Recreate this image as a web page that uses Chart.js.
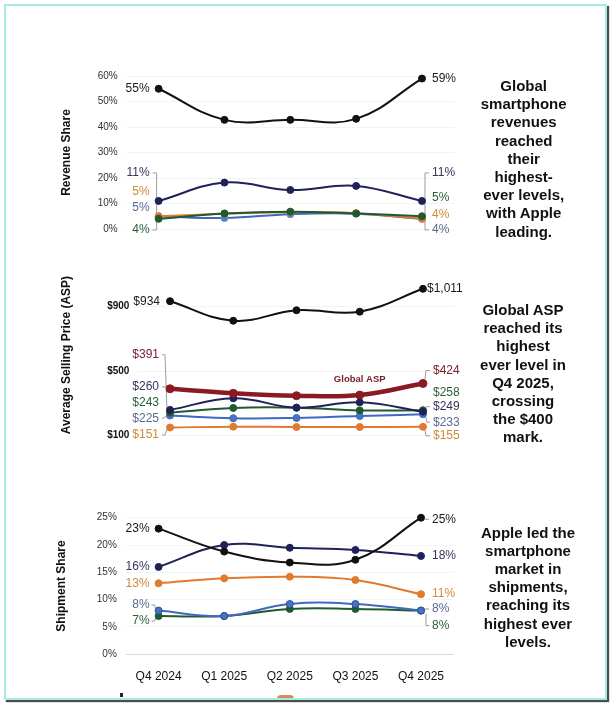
<!DOCTYPE html>
<html><head><meta charset="utf-8">
<script src="https://cdn.jsdelivr.net/npm/chart.js@4.4.1/dist/chart.umd.min.js"></script>
<style>
html,body{margin:0;padding:0;background:#fff;width:613px;height:706px;overflow:hidden;}
#frame{position:absolute;left:3.5px;top:3.5px;width:599px;height:692px;border:2.5px solid #a6ebe6;box-shadow:2px 2px 1px #4d4d4d;z-index:2;}
canvas{position:absolute;left:0;}
.note{position:absolute;width:140px;text-align:center;white-space:nowrap;font:bold 15px/18.2px "Liberation Sans",Arial,sans-serif;color:#111;}
.stub{position:absolute;overflow:hidden;}
</style></head><body>
<div class="stub" style="left:277px;top:695px;width:17px;height:3px;"><div style="width:17px;height:8px;border-radius:8px;background:#d98a5a;"></div></div>
<div class="stub" style="left:120px;top:693px;width:3px;height:4px;background:#222;"></div>
<div id="frame"></div>
<canvas id="c1" width="613" height="250" style="top:0px"></canvas>
<canvas id="c2" width="613" height="230" style="top:250px"></canvas>
<canvas id="c3" width="613" height="226" style="top:480px"></canvas>
<div class="note" style="left:453.7px;top:76.9px">Global<br>smartphone<br>revenues<br>reached<br>their<br>highest-<br>ever levels,<br>with Apple<br>leading.</div>
<div class="note" style="left:453px;top:301px">Global ASP<br>reached its<br>highest<br>ever level in<br>Q4 2025,<br>crossing<br>the $400<br>mark.</div>
<div class="note" style="left:458px;top:523.6px">Apple led the<br>smartphone<br>market in<br>shipments,<br>reaching its<br>highest ever<br>levels.</div>
<script>
// ---------------- DATA ----------------
const quarters = ['Q4 2024', 'Q1 2025', 'Q2 2025', 'Q3 2025', 'Q4 2025'];

// Revenue share (%)
const revApple   = [55, 42.8, 42.8, 43.2, 59];
const revSamsung = [11, 18.2, 15.3, 16.9, 11];
const revGreen   = [4, 6.1, 6.8, 6.1, 5];
const revOrange  = [5, 6.0, 6.6, 6.2, 4];
const revBlue    = [5, 4.3, 5.8, 6.0, 4];
const revTicks   = [0, 10, 20, 30, 40, 50, 60];

// Average selling price (US$)
const aspApple   = [934, 813, 878, 869, 1011];
const aspGlobal  = [391, 363, 348, 352, 424];
const aspSamsung = [260, 332, 274, 307, 249];
const aspGreen   = [243, 272, 274, 257, 258];
const aspBlue    = [225, 208, 210, 222, 233];
const aspOrange  = [151, 156, 154, 154, 155];
const aspTicks   = [100, 500, 900];

// Shipment share (%)
const shipApple   = [23, 18.8, 16.8, 17.3, 25];
const shipSamsung = [16, 20.0, 19.5, 19.1, 18];
const shipOrange  = [13, 13.9, 14.2, 13.6, 11];
const shipBlue    = [8, 7.0, 9.2, 9.2, 8];
const shipGreen   = [7, 7.0, 8.3, 8.3, 8];
const shipTicks   = [0, 5, 10, 15, 20, 25];

// ---------------- STYLE ----------------
const FONT = '"Liberation Sans", Arial, sans-serif';
Chart.defaults.font.family = FONT;
const C = {
  black:  {line:'#111111', label:'#1a1a1a'},
  navy:   {line:'#1f2258', label:'#34365a'},
  green:  {line:'#1f5a31', label:'#2b5e3b'},
  orange: {line:'#e07a2e', label:'#d08a3e'},
  blue:   {line:'#4068bd', label:'#5d6a90'},
  red:    {line:'#8b1b22', label:'#7a2030'}
};
function ds(data, c, extra) {
  return Object.assign({
    data, borderColor: C[c].line, backgroundColor: C[c].line,
    pointBackgroundColor: C[c].line, pointBorderColor: C[c].line,
    borderWidth: 2, pointRadius: 3.5, pointBorderWidth: 1,
    tension: 0.4, clip: false, labelColor: C[c].label
  }, extra || {});
}

const endLabels = {
  id: 'endLabels',
  _pos(chart, o, i, side) {
    const spec = o[side] && o[side][i];
    if (!spec) return null;
    const pts = chart.getDatasetMeta(i).data;
    const idx = side === 'left' ? 0 : pts.length - 1;
    const p = pts[idx];
    const lx = side === 'left' ? p.x - spec.gap : p.x + spec.gap;
    return {spec, p, idx, lx, ly: p.y + spec.dy};
  },
  beforeDatasetsDraw(chart, args, o) {
    const ctx = chart.ctx;
    ctx.save();
    ctx.strokeStyle = '#9c9c9c'; ctx.lineWidth = 1;
    chart.data.datasets.forEach((d, i) => {
      ['left', 'right'].forEach(side => {
        const r = this._pos(chart, o, i, side);
        if (!r || !r.spec.leader) return;
        ctx.beginPath();
        r.spec.leader.forEach(([ref, dx, dy], k) => {
          const bx = (ref === 'L' ? r.lx : r.p.x) + dx;
          const by = (ref === 'L' ? r.ly : r.p.y) + dy;
          k ? ctx.lineTo(bx, by) : ctx.moveTo(bx, by);
        });
        ctx.stroke();
      });
    });
    ctx.restore();
  },
  afterDatasetsDraw(chart, args, o) {
    const ctx = chart.ctx;
    ctx.save();
    ctx.font = '12px ' + FONT;
    ctx.textBaseline = 'middle';
    chart.data.datasets.forEach((d, i) => {
      ['left', 'right'].forEach(side => {
        const r = this._pos(chart, o, i, side);
        if (!r) return;
        ctx.fillStyle = d.labelColor;
        ctx.textAlign = side === 'left' ? 'right' : 'left';
        ctx.fillText(o.fmt(d.data[r.idx]), r.lx, r.ly);
      });
    });
    (o.tags || []).forEach(t => {
      const p = chart.getDatasetMeta(t.ds).data[t.idx];
      ctx.font = t.font; ctx.fillStyle = t.color; ctx.textAlign = 'center';
      ctx.fillText(t.text, p.x + t.dx, p.y + t.dy);
    });
    ctx.restore();
  }
};
Chart.register(endLabels);

function makeChart(id, datasets, cfg) {
  const xScale = {
    type: 'category', offset: true, display: cfg.showX,
    grid: {display: false}, border: {display: false},
    ticks: {padding: 7.5, color: '#111', font: {size: 12}}
  };
  if (cfg.showX) xScale.afterFit = s => { s.height = 30; };
  return new Chart(document.getElementById(id), {
    type: 'line',
    data: {labels: quarters, datasets},
    options: {
      responsive: false, animation: false, events: [],
      layout: {padding: cfg.padding},
      plugins: {legend: {display: false}, tooltip: {enabled: false}, endLabels: cfg.labels},
      scales: {
        x: xScale,
        y: {
          min: cfg.min, max: cfg.max,
          afterBuildTicks: s => { s.ticks = cfg.ticks.map(v => ({value: v})); },
          ticks: {padding: cfg.tickPad, color: cfg.tickColor, font: {size: 10, weight: cfg.tickWeight},
                  callback: cfg.tickFmt},
          grid: {drawTicks: false, color: cfg.gridColor},
          border: {display: false},
          title: {display: true, text: cfg.title, color: '#111', font: {size: 12, weight: 'bold'},
                  padding: {top: cfg.titlePad, bottom: 0}},
          afterFit: s => { s.width = cfg.axisW; }
        }
      }
    }
  });
}

const pct = v => Math.round(v) + '%';
const usd = v => '$' + Math.round(v).toLocaleString('en-US');

// Panel 1: revenue share
makeChart('c1', [
  ds(revApple, 'black'),
  ds(revSamsung, 'navy'),
  ds(revGreen, 'green'),
  ds(revOrange, 'orange'),
  ds(revBlue, 'blue', {pointBackgroundColor: '#4d80d2', pointBorderColor: '#6d8fcf'})
], {
  padding: {left: 0, right: 158.1, top: 76, bottom: 21}, showX: false,
  min: 0, max: 60, ticks: revTicks, tickFmt: v => v + '%', tickPad: 8, tickColor: '#333', tickWeight: 'normal',
  gridColor: '#f3f3f3', title: 'Revenue Share', titlePad: 59.8, axisW: 125.7,
  labels: {
    fmt: pct,
    left: [
      {gap: 9, dy: 0},
      {gap: 9, dy: -28, leader: [['L', 3, 0], ['L', 7, 0], ['L', 7, 57], ['L', 3, 57]]},
      {gap: 9, dy: 11},
      {gap: 9, dy: -24.5},
      {gap: 9, dy: -9}
    ],
    right: [
      {gap: 10, dy: 0},
      {gap: 10, dy: -28, leader: [['L', -3, 0], ['L', -7, 0], ['L', -7, 57], ['L', -3, 57]]},
      {gap: 10, dy: -19},
      {gap: 10, dy: -4},
      {gap: 10, dy: 11}
    ]
  }
});

// Panel 2: ASP
makeChart('c2', [
  ds(aspApple, 'black'),
  ds(aspGlobal, 'red', {borderWidth: 4.5, pointRadius: 4}),
  ds(aspSamsung, 'navy'),
  ds(aspGreen, 'green'),
  ds(aspBlue, 'blue', {pointBackgroundColor: '#4872c6'}),
  ds(aspOrange, 'orange')
], {
  padding: {left: 0, right: 158.4, top: 24.45, bottom: 44.3}, showX: false,
  min: 100, max: 1100, ticks: aspTicks, tickFmt: v => '$' + v, tickPad: 9, tickColor: '#111', tickWeight: 'bold',
  gridColor: '#f3f3f3', title: 'Average Selling Price (ASP)', titlePad: 59.4, axisW: 138.4,
  labels: {
    fmt: usd,
    left: [
      {gap: 10, dy: 0},
      {gap: 11, dy: -34, leader: [['L', 3, 0], ['L', 6, 0], ['P', -3, 22]]},
      {gap: 11, dy: -23, leader: [['L', 3, 0], ['L', 8, 0]]},
      {gap: 11, dy: -10},
      {gap: 11, dy: 3, leader: [['L', 3, 0], ['L', 7, -2]]},
      {gap: 11, dy: 7.5, leader: [['L', 3, 0], ['L', 6, 0], ['P', -3, 2]]}
    ],
    right: [
      {gap: 4, dy: 0},
      {gap: 10, dy: -13, leader: [['L', -3, 0], ['L', -7, 0], ['P', 2, -4]]},
      {gap: 10, dy: -5, leader: [['L', -3, 0], ['L', -7, 0]]},
      {gap: 10, dy: -18},
      {gap: 10, dy: 8, leader: [['L', -3, 0], ['L', -6, 0], ['P', 3, 3]]},
      {gap: 10, dy: 9, leader: [['L', -3, 0], ['L', -7, 0], ['P', 2, 3]]}
    ],
    tags: [{ds: 1, idx: 3, dx: 0, dy: -16, text: 'Global ASP', color: '#7a1a2a', font: 'bold 9.5px ' + FONT}]
  }
});

// Panel 3: shipment share
makeChart('c3', [
  ds(shipApple, 'black'),
  ds(shipSamsung, 'navy'),
  ds(shipOrange, 'orange'),
  ds(shipBlue, 'blue', {pointBackgroundColor: '#4872c6', pointBorderColor: '#2f4f9a'}),
  ds(shipGreen, 'green')
], {
  padding: {left: 0, right: 159.2, top: 37.7, bottom: 21.7}, showX: true,
  min: 0, max: 25, ticks: shipTicks, tickFmt: v => v + '%', tickPad: 9, tickColor: '#333', tickWeight: 'normal',
  gridColor: c => (c.tick && c.tick.value === 0 ? '#d9d9d9' : '#f4f4f4'),
  title: 'Shipment Share', titlePad: 54.8, axisW: 125.8,
  labels: {
    fmt: pct,
    left: [
      {gap: 9, dy: 0},
      {gap: 9, dy: 0},
      {gap: 9, dy: 0},
      {gap: 9, dy: -5.6, leader: [['L', 2, 0], ['L', 5, 0], ['P', -3, -2]]},
      {gap: 9, dy: 5, leader: [['L', 2, 0], ['L', 5, 0], ['P', -3, 2]]}
    ],
    right: [
      {gap: 11, dy: 1.6, leader: [['L', -3, 0], ['L', -7, 0]]},
      {gap: 11, dy: 0},
      {gap: 11, dy: -1},
      {gap: 11, dy: -1.6, leader: [['L', -3, 0], ['L', -7, 0]]},
      {gap: 11, dy: 15, leader: [['L', -3, 0], ['L', -6, 0], ['P', 5, 3]]}
    ]
  }
});
</script>
</body></html>
